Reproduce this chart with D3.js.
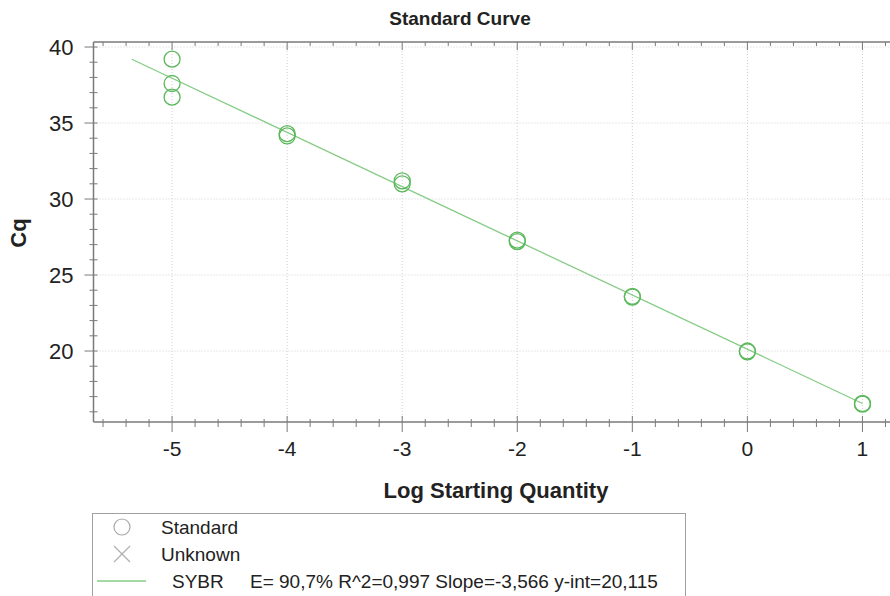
<!DOCTYPE html>
<html>
<head>
<meta charset="utf-8">
<script src="https://cdn.jsdelivr.net/npm/d3@7"></script>
<style>
  body { margin: 0; background: #fff; }
  text { font-family: "Liberation Sans", Arial, sans-serif; }
</style>
</head>
<body>
<div id="chart"></div>
<script>
// standard points (log quantity, Cq)
var logQty = [-5, -5, -5, -4, -4, -3, -3, -2, -2, -1, -1, 0, 0, 1, 1];
var cqVals = [39.2, 37.6, 36.7, 34.3, 34.15, 31.2, 31.0, 27.3, 27.2, 23.6, 23.55, 20.0, 19.95, 16.55, 16.5];

// fitted line
var fitSlope = -3.566, fitIntercept = 20.115;
var fitRange = [-5.35, 1];

var xTickVals = [-5, -4, -3, -2, -1, 0, 1];
var yTickVals = [20, 25, 30, 35, 40];

var legendLabels = ["Standard", "Unknown", "SYBR"];
var fitText = "E= 90,7% R^2=0,997 Slope=-3,566 y-int=20,115";

var width = 890, height = 596;
var pLeft = 93.5, pRight = 891, pTop = 42, pBottom = 422;

var svg = d3.select("#chart").append("svg")
  .attr("width", width)
  .attr("height", height);

var x = d3.scaleLinear().domain([-5.683, 1.248]).range([pLeft, pRight]);
var y = d3.scaleLinear().domain([15.33, 40.33]).range([pBottom, pTop]);

var axisColor = "#7a7a7a";
var gridColor = "#cfcfcf";

// dotted grid
svg.append("g").selectAll("line")
  .data(xTickVals).enter().append("line")
    .attr("x1", function(d){ return x(d) }).attr("x2", function(d){ return x(d) })
    .attr("y1", pTop).attr("y2", pBottom)
    .attr("stroke", gridColor).attr("stroke-dasharray", "1,2");
svg.append("g").selectAll("line")
  .data(yTickVals).enter().append("line")
    .attr("x1", pLeft).attr("x2", pRight)
    .attr("y1", function(d){ return y(d) }).attr("y2", function(d){ return y(d) })
    .attr("stroke", gridColor).attr("stroke-dasharray", "1,2");

// axes: minor ticks crossing the line, longer majors
var xMinor = d3.range(-28, 7).map(function(i){ return i / 5 });
var yMinor = d3.range(16, 41);

function isMajorX(v) { return Math.abs(v - Math.round(v)) < 1e-6 }
function isMajorY(v) { return v % 5 === 0 }

var bottomAxis = svg.append("g");
bottomAxis.append("line").attr("x1", pLeft).attr("x2", pRight).attr("y1", pBottom).attr("y2", pBottom)
  .attr("stroke", axisColor).attr("stroke-width", 1.5);
bottomAxis.selectAll(".t").data(xMinor).enter().append("line")
  .attr("x1", function(d){ return x(d) }).attr("x2", function(d){ return x(d) })
  .attr("y1", function(d){ return isMajorX(d) ? pBottom - 6 : pBottom - 3 })
  .attr("y2", function(d){ return isMajorX(d) ? pBottom + 10 : pBottom + 5 })
  .attr("stroke", axisColor);

var topAxis = svg.append("g");
topAxis.append("line").attr("x1", pLeft).attr("x2", pRight).attr("y1", pTop).attr("y2", pTop)
  .attr("stroke", axisColor).attr("stroke-width", 1.5);
topAxis.selectAll(".t").data(xMinor).enter().append("line")
  .attr("x1", function(d){ return x(d) }).attr("x2", function(d){ return x(d) })
  .attr("y1", pTop)
  .attr("y2", function(d){ return isMajorX(d) ? pTop + 8 : pTop + 4 })
  .attr("stroke", axisColor);

var leftAxis = svg.append("g");
leftAxis.append("line").attr("x1", pLeft).attr("x2", pLeft).attr("y1", pTop).attr("y2", pBottom)
  .attr("stroke", axisColor).attr("stroke-width", 1.5);
leftAxis.selectAll(".t").data(yMinor).enter().append("line")
  .attr("x1", function(d){ return isMajorY(d) ? pLeft - 9 : pLeft - 4 })
  .attr("x2", pLeft + 4)
  .attr("y1", function(d){ return y(d) }).attr("y2", function(d){ return y(d) })
  .attr("stroke", axisColor);

// tick labels
svg.append("g").selectAll("text")
  .data(xTickVals).enter().append("text")
    .attr("x", function(d){ return x(d) })
    .attr("y", pBottom + 34)
    .attr("text-anchor", "middle")
    .attr("font-size", "21px")
    .attr("fill", "#222")
    .text(function(d){ return d });
svg.append("g").selectAll("text")
  .data(yTickVals).enter().append("text")
    .attr("x", pLeft - 20)
    .attr("y", function(d){ return y(d) + 8 })
    .attr("text-anchor", "end")
    .attr("font-size", "22px")
    .attr("fill", "#222")
    .text(function(d){ return d });

// titles
svg.append("text")
  .attr("x", 460).attr("y", 25)
  .attr("text-anchor", "middle")
  .attr("font-size", "19px").attr("font-weight", "bold")
  .attr("fill", "#222")
  .text("Standard Curve");
svg.append("text")
  .attr("x", 496).attr("y", 498)
  .attr("text-anchor", "middle")
  .attr("font-size", "22px").attr("font-weight", "bold")
  .attr("fill", "#222")
  .text("Log Starting Quantity");
svg.append("text")
  .attr("transform", "translate(26,233) rotate(-90)")
  .attr("text-anchor", "middle")
  .attr("font-size", "22px").attr("font-weight", "bold")
  .attr("fill", "#222")
  .text("Cq");

// fit line
var lineGreen = "#86cc86", dotGreen = "#5cb85c";
svg.append("line")
  .attr("x1", x(fitRange[0])).attr("y1", y(fitSlope * fitRange[0] + fitIntercept))
  .attr("x2", x(fitRange[1])).attr("y2", y(fitSlope * fitRange[1] + fitIntercept))
  .attr("stroke", lineGreen).attr("stroke-width", 1.3);

// points
svg.append("g").selectAll("circle")
  .data(logQty).enter().append("circle")
    .attr("cx", function(d){ return x(d) })
    .attr("cy", function(d, i){ return y(cqVals[i]) })
    .attr("r", 8)
    .attr("fill", "none")
    .attr("stroke", dotGreen)
    .attr("stroke-width", 1.3);

// legend
var lg = svg.append("g");
lg.append("rect")
  .attr("x", 92.5).attr("y", 513.5).attr("width", 593).attr("height", 100)
  .attr("fill", "#fff").attr("stroke", "#a0a0a0");
var rowY = [527, 554, 581];
lg.append("circle").attr("cx", 122).attr("cy", rowY[0]).attr("r", 8)
  .attr("fill", "none").attr("stroke", "#a8a8a8").attr("stroke-width", 1.2);
lg.append("path").attr("d", "M114," + (rowY[1] - 8) + "L130," + (rowY[1] + 8) + "M130," + (rowY[1] - 8) + "L114," + (rowY[1] + 8))
  .attr("stroke", "#b0b0b0").attr("stroke-width", 1.2);
lg.append("line").attr("x1", 97).attr("x2", 146).attr("y1", rowY[2]).attr("y2", rowY[2])
  .attr("stroke", lineGreen).attr("stroke-width", 1.3);
lg.selectAll(".lbl").data(legendLabels).enter().append("text")
  .attr("x", function(d, i){ return i === 2 ? 172 : 161 })
  .attr("y", function(d, i){ return rowY[i] + 7 })
  .attr("font-size", "19px").attr("fill", "#222")
  .text(function(d){ return d });
lg.append("text").attr("x", 250).attr("y", rowY[2] + 7)
  .attr("font-size", "19px").attr("fill", "#222")
  .text(fitText);
</script>
</body>
</html>
